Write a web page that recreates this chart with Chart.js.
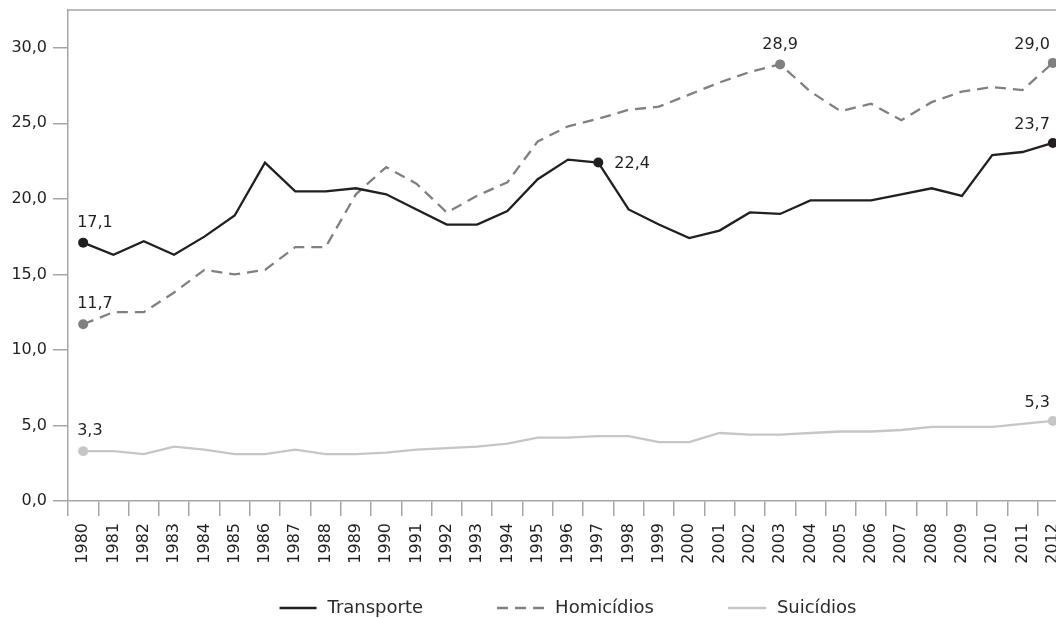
<!DOCTYPE html>
<html lang="pt">
<head>
<meta charset="utf-8">
<title>Taxas de mortalidade por causas externas</title>
<script src="https://cdn.jsdelivr.net/npm/chart.js@4.4.0/dist/chart.umd.min.js"></script>
<style>
    html, body { margin: 0; padding: 0; background: #fff; overflow: hidden; }
    #wrap { position: relative; width: 1073px; height: 618px; }
</style>
</head>
<body>
<div id="wrap"><canvas id="grafico"></canvas></div>
<script>
// Anos (eixo X)
const anos = ['1980', '1981', '1982', '1983', '1984', '1985', '1986', '1987', '1988', '1989',
    '1990', '1991', '1992', '1993', '1994', '1995', '1996', '1997', '1998', '1999',
    '2000', '2001', '2002', '2003', '2004', '2005', '2006', '2007', '2008', '2009',
    '2010', '2011', '2012'];

// Taxas por série
const transporte = [17.1, 16.3, 17.2, 16.3, 17.5, 18.9, 22.4, 20.5, 20.5, 20.7,
    20.3, 19.3, 18.3, 18.3, 19.2, 21.3, 22.6, 22.4, 19.3, 18.3,
    17.4, 17.9, 19.1, 19.0, 19.9, 19.9, 19.9, 20.3, 20.7, 20.2,
    22.9, 23.1, 23.7];
const homicidios = [11.7, 12.5, 12.5, 13.8, 15.3, 15.0, 15.3, 16.8, 16.8, 20.3,
    22.1, 21.0, 19.1, 20.2, 21.1, 23.8, 24.8, 25.3, 25.9, 26.1,
    26.9, 27.7, 28.4, 28.9, 27.1, 25.8, 26.3, 25.2, 26.4, 27.1,
    27.4, 27.2, 29.0];
const suicidios = [3.3, 3.3, 3.1, 3.6, 3.4, 3.1, 3.1, 3.4, 3.1, 3.1,
    3.2, 3.4, 3.5, 3.6, 3.8, 4.2, 4.2, 4.3, 4.3, 3.9,
    3.9, 4.5, 4.4, 4.4, 4.5, 4.6, 4.6, 4.7, 4.9, 4.9,
    4.9, 5.1, 5.3];

// Pontos destacados com rótulo: [série, ano, posição do rótulo]
const destaques = [
    [0, '1980', 'acima'],
    [1, '1980', 'acima'],
    [2, '1980', 'acima'],
    [0, '1997', 'direita'],
    [1, '2003', 'centro'],
    [1, '2012', 'esquerda'],
    [0, '2012', 'esquerda'],
    [2, '2012', 'esquerda']
];

const FONTE = 'DejaVu Sans';
const COR_EIXO = '#a6a6a6';
const COR_TEXTO = '#231f20';

const fmt = (v) => v.toFixed(1).replace('.', ',');

const raioPonto = (serie) => (ctx) =>
    destaques.some(d => d[0] === serie && anos.indexOf(d[1]) === ctx.dataIndex) ? 5 : 0;

// Linha superior do quadro
const bordaTopo = {
    id: 'bordaTopo',
    afterDraw(chart) {
        const { ctx, chartArea } = chart;
        ctx.save();
        ctx.strokeStyle = COR_EIXO;
        ctx.lineWidth = 1.5;
        ctx.beginPath();
        ctx.moveTo(chartArea.left, chartArea.top);
        ctx.lineTo(chart.width, chartArea.top);
        ctx.stroke();
        ctx.restore();
    }
};

// Rótulos de valor nos pontos destacados
const rotulos = {
    id: 'rotulos',
    afterDatasetsDraw(chart) {
        const ctx = chart.ctx;
        ctx.save();
        ctx.font = `16px "${FONTE}"`;
        ctx.fillStyle = COR_TEXTO;
        destaques.forEach(([serie, ano, pos]) => {
            const i = anos.indexOf(ano);
            const pt = chart.getDatasetMeta(serie).data[i];
            const txt = fmt(chart.data.datasets[serie].data[i]);
            if (pos === 'acima') {
                ctx.textAlign = 'left'; ctx.textBaseline = 'bottom';
                ctx.fillText(txt, pt.x - 6, pt.y - 12);
            } else if (pos === 'direita') {
                ctx.textAlign = 'left'; ctx.textBaseline = 'middle';
                ctx.fillText(txt, pt.x + 16, pt.y + 1);
            } else if (pos === 'centro') {
                ctx.textAlign = 'center'; ctx.textBaseline = 'bottom';
                ctx.fillText(txt, pt.x, pt.y - 12);
            } else {
                ctx.textAlign = 'right'; ctx.textBaseline = 'bottom';
                ctx.fillText(txt, pt.x - 3, pt.y - 10);
            }
        });
        ctx.restore();
    }
};

// Legenda inferior (amostra de linha + texto), centrada na área do gráfico
const legenda = {
    id: 'legenda',
    afterDraw(chart, args, opts) {
        const ctx = chart.ctx;
        const { chartArea } = chart;
        const y = opts.y;
        ctx.save();
        ctx.font = `18px "${FONTE}"`;
        const itens = chart.data.datasets.map((ds, k) => ({
            ds,
            amostra: opts.amostras[k],
            largura: opts.amostras[k] + opts.folga + ctx.measureText(ds.label).width
        }));
        const total = itens.reduce((s, it) => s + it.largura, 0) + opts.espaco * (itens.length - 1);
        let x = (chartArea.left + chartArea.right) / 2 - total / 2;
        itens.forEach(it => {
            ctx.strokeStyle = it.ds.borderColor;
            ctx.lineWidth = it.ds.borderWidth;
            ctx.setLineDash(it.ds.borderDash || []);
            ctx.beginPath();
            ctx.moveTo(x, y);
            ctx.lineTo(x + it.amostra, y);
            ctx.stroke();
            ctx.setLineDash([]);
            ctx.fillStyle = '#2b2b2b';
            ctx.textAlign = 'left';
            ctx.textBaseline = 'middle';
            ctx.fillText(it.ds.label, x + it.amostra + opts.folga, y);
            x += it.largura + opts.espaco;
        });
        ctx.restore();
    }
};

Chart.defaults.font.family = FONTE;

new Chart(document.getElementById('grafico').getContext('2d'), {
    type: 'line',
    data: {
        labels: anos,
        datasets: [
            {
                label: 'Transporte',
                data: transporte,
                borderColor: '#231f20',
                backgroundColor: '#231f20',
                borderWidth: 2.3,
                pointRadius: raioPonto(0),
                pointBorderWidth: 0,
                tension: 0
            },
            {
                label: 'Homicídios',
                data: homicidios,
                borderColor: '#808080',
                backgroundColor: '#808080',
                borderWidth: 2.3,
                borderDash: [11, 7],
                pointRadius: raioPonto(1),
                pointBorderWidth: 0,
                tension: 0
            },
            {
                label: 'Suicídios',
                data: suicidios,
                borderColor: '#c6c6c6',
                backgroundColor: '#c6c6c6',
                borderWidth: 2.3,
                pointRadius: raioPonto(2),
                pointBorderWidth: 0,
                tension: 0
            }
        ]
    },
    options: {
        responsive: true,
        maintainAspectRatio: false,
        animation: false,
        layout: { padding: { top: 10, right: 0, bottom: 0, left: 0 } },
        scales: {
            x: {
                type: 'category',
                offset: true,
                border: { color: COR_EIXO, width: 1.5 },
                grid: { drawOnChartArea: false, offset: true, tickLength: 15, color: COR_EIXO, lineWidth: 1.5 },
                ticks: {
                    autoSkip: false,
                    minRotation: 90,
                    maxRotation: 90,
                    padding: 7,
                    color: COR_TEXTO,
                    font: { size: 16 }
                },
                // altura fixa do eixo e sem margens laterais extras
                afterFit: (s) => { s.height = 117; s.paddingLeft = 0; s.paddingRight = 0; }
            },
            y: {
                min: 0,
                max: 32.5,
                border: { color: COR_EIXO, width: 1.5 },
                grid: { drawOnChartArea: false, tickLength: 15, color: COR_EIXO, lineWidth: 1.5 },
                ticks: {
                    stepSize: 5,
                    includeBounds: false,
                    padding: 6,
                    color: COR_TEXTO,
                    font: { size: 16 },
                    callback: (v) => fmt(v)
                },
                afterFit: (s) => { s.width = 68; s.paddingTop = 0; s.paddingBottom = 0; }
            }
        },
        plugins: {
            legend: { display: false },
            tooltip: { enabled: false },
            legenda: { y: 608, amostras: [37, 47, 38], folga: 11, espaco: 74 }
        }
    },
    plugins: [bordaTopo, rotulos, legenda]
});
</script>
</body>
</html>
